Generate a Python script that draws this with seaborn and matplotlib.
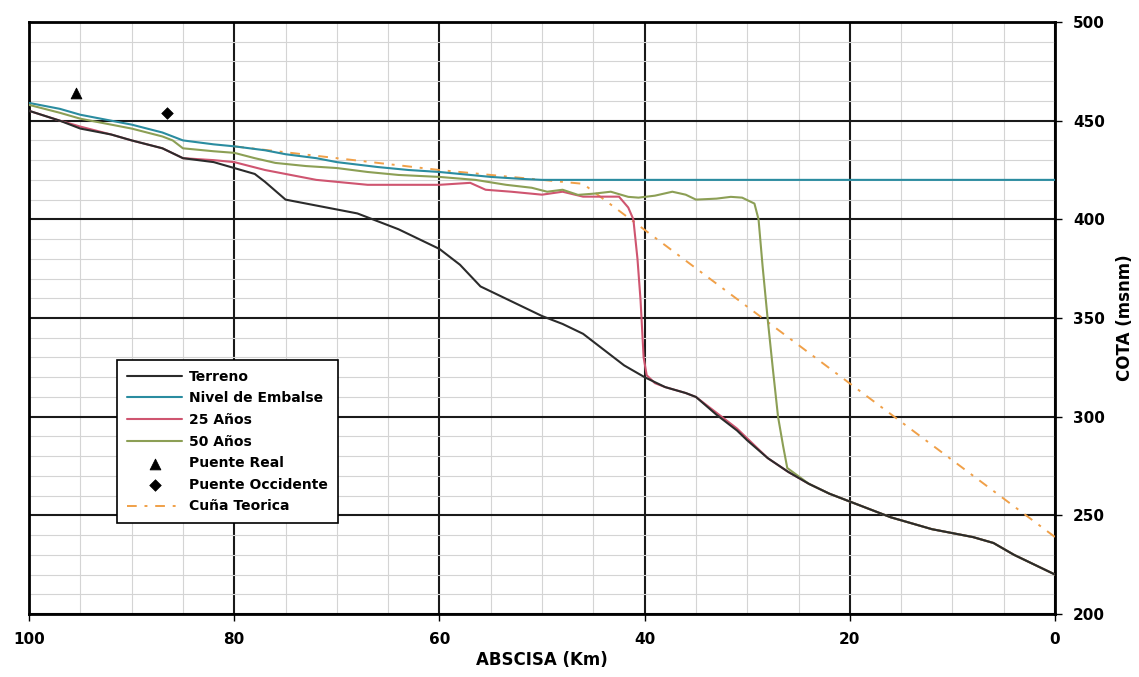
import matplotlib
matplotlib.use("Agg")
import matplotlib.pyplot as plt
from matplotlib import font_manager
from matplotlib.ticker import MultipleLocator
import seaborn as sns
import pandas as pd

# ---------------- data ----------------
x_terreno = [100, 97, 95, 92, 90, 87, 85, 82, 80, 78, 77, 75, 73, 71, 68, 66, 64, 62, 60, 58, 56,
             54, 52, 50, 48, 46, 44, 42, 40, 38, 36, 35, 33, 31, 30, 28, 26, 24, 22, 20, 18, 16,
             14, 12, 10, 8, 6, 4, 2, 0]
y_terreno = [455, 450, 446, 443, 440, 436, 431, 429, 426, 423, 419, 410, 408, 406, 403, 399, 395,
             390, 385, 377, 366, 361, 356, 351, 347, 342, 334, 326, 320, 315, 312, 310, 301, 293,
             288, 279, 272, 266, 261, 257, 253, 249, 246, 243, 241, 239, 236, 230, 225, 220]

x_nivel = [100, 97, 95, 92, 90, 87, 85, 82, 80, 77, 75, 72, 70, 66, 63, 60, 57, 55, 52, 50, 0]
y_nivel = [459, 456, 453, 450, 448, 444, 440, 438, 437, 435, 433, 431, 429, 426.5, 425, 424,
           422.5, 421.5, 420.5, 420, 420]

x_25 = [100, 97, 95, 92, 90, 87, 85, 82, 80, 77, 75, 72, 70, 67, 64, 60, 57, 55.5, 53, 50, 48,
        46, 44, 42.5, 41.6, 41.1, 40.7, 40.4, 40.1, 39.8, 39, 38, 36, 35, 33, 31, 30, 28, 26, 24,
        22, 20, 18, 16, 14, 12, 10, 8, 6, 4, 2, 0]
y_25 = [455, 450, 447, 443, 440, 436, 431, 430, 429, 425, 423, 420, 419, 417.5, 417.5, 417.5,
        418.5, 415, 414, 412.5, 414, 411.5, 411.5, 411.5, 406, 400, 380, 359, 330, 321, 317, 315,
        312, 310, 302, 294, 289, 279, 272, 266, 261, 257, 253, 249, 246, 243, 241, 239, 236, 230,
        225, 220]

x_50 = [100, 97, 95, 92, 90, 87, 86, 85, 82, 80, 78, 76, 73, 70, 67, 64, 60, 56.5, 53.5, 51, 49.5,
        48, 46.5, 45, 43.3, 41.6, 40.6, 39, 37.3, 36, 35, 33, 31.6, 30.5, 29.3, 28.9, 28.5, 28,
        27.5, 27, 26.5, 26.1, 24, 22, 20, 18, 16, 14, 12, 10, 8, 6, 4, 2, 0]
y_50 = [458, 454, 451, 448, 446, 442, 440, 436, 434.5, 433.7, 431, 428.6, 427, 426, 424, 422.5,
        421.5, 420, 417.5, 416, 414, 415, 412.4, 413, 414, 411.4, 411, 412, 414, 412.5, 410, 410.5,
        411.4, 411, 408, 400, 376, 349, 324, 300, 285, 274, 266, 261, 257, 253, 249, 246, 243,
        241, 239, 236, 230, 225, 220]

x_cuna = [80, 70, 60, 52, 46, 0]
y_cuna = [437, 431, 425, 421, 418, 239]

x_puente_real = [95.4]
y_puente_real = [464]
x_puente_occ = [86.6]
y_puente_occ = [454]

x_ticks = [100, 80, 60, 40, 20, 0]
y_ticks = [200, 250, 300, 350, 400, 450, 500]

# ---------------- style ----------------
sns.set_style("white")
avail = {f.name for f in font_manager.fontManager.ttflist}
fam = "Liberation Sans Narrow" if "Liberation Sans Narrow" in avail else "DejaVu Sans"
plt.rcParams["font.family"] = [fam, "DejaVu Sans"]
plt.rcParams["text.color"] = "black"
plt.rcParams["axes.labelcolor"] = "black"
plt.rcParams["xtick.color"] = "black"
plt.rcParams["ytick.color"] = "black"

fig = plt.figure(figsize=(11.39, 6.77), dpi=100)
ax = fig.add_axes([0.0255, 0.093, 0.9008, 0.8745])

def df(x, y):
    return pd.DataFrame({"x": x, "y": y})

sns.lineplot(data=df(x_terreno, y_terreno), x="x", y="y", ax=ax, sort=False, estimator=None,
             color="#2b2b2b", lw=1.5, label="Terreno", zorder=5)
sns.lineplot(data=df(x_nivel, y_nivel), x="x", y="y", ax=ax, sort=False, estimator=None,
             color="#2a8ca0", lw=1.5, label="Nivel de Embalse", zorder=4)
sns.lineplot(data=df(x_25, y_25), x="x", y="y", ax=ax, sort=False, estimator=None,
             color="#cf5570", lw=1.5, label="25 Años", zorder=4)
sns.lineplot(data=df(x_50, y_50), x="x", y="y", ax=ax, sort=False, estimator=None,
             color="#8c9f55", lw=1.5, label="50 Años", zorder=4)
sns.scatterplot(data=df(x_puente_real, y_puente_real), x="x", y="y", ax=ax, marker="^",
                color="black", s=60, edgecolor="black", label="Puente Real", zorder=6)
sns.scatterplot(data=df(x_puente_occ, y_puente_occ), x="x", y="y", ax=ax, marker="D",
                color="black", s=35, edgecolor="black", label="Puente Occidente", zorder=6)
sns.lineplot(data=df(x_cuna, y_cuna), x="x", y="y", ax=ax, sort=False, estimator=None,
             color="#f0a048", lw=1.4, linestyle=(0, (5, 4, 1.5, 4)), label="Cuña Teorica", zorder=3)

ax.set_xlim(100, 0)
ax.set_ylim(200, 500)
ax.set_xticks(x_ticks)
ax.set_yticks(y_ticks)
ax.xaxis.set_minor_locator(MultipleLocator(5))
ax.yaxis.set_minor_locator(MultipleLocator(10))
ax.grid(which="major", color="#1a1a1a", lw=1.5, zorder=1)
ax.grid(which="minor", color="#d4d4d4", lw=0.8, zorder=0)
ax.set_axisbelow(True)

ax.yaxis.tick_right()
ax.yaxis.set_label_position("right")
ax.tick_params(axis="both", which="major", direction="out", length=5, width=1, colors="black",
               labelsize=11, pad=8)
ax.tick_params(axis="both", which="minor", length=0)
ax.tick_params(axis="y", which="major", right=True, left=False)
ax.tick_params(axis="x", which="major", bottom=True)
for lab in ax.get_xticklabels() + ax.get_yticklabels():
    lab.set_fontweight("bold")
    lab.set_color("black")

for sp in ax.spines.values():
    sp.set_visible(True)
    sp.set_color("black")
    sp.set_linewidth(2)

ax.set_xlabel("ABSCISA (Km)", fontsize=12, fontweight="bold", labelpad=3, color="black")
ax.set_ylabel("COTA (msnm)", fontsize=12, fontweight="bold", labelpad=8, color="black")

leg = ax.legend(loc="upper left", bbox_to_anchor=(0.079, 0.441), frameon=True, fancybox=False,
                edgecolor="black", framealpha=1, fontsize=10, handlelength=4, borderpad=0.7,
                labelspacing=0.55, handletextpad=0.5)
leg.get_frame().set_linewidth(1.2)
for t in leg.get_texts():
    t.set_fontweight("bold")
    t.set_color("black")

fig.savefig("out.png", dpi=100)
